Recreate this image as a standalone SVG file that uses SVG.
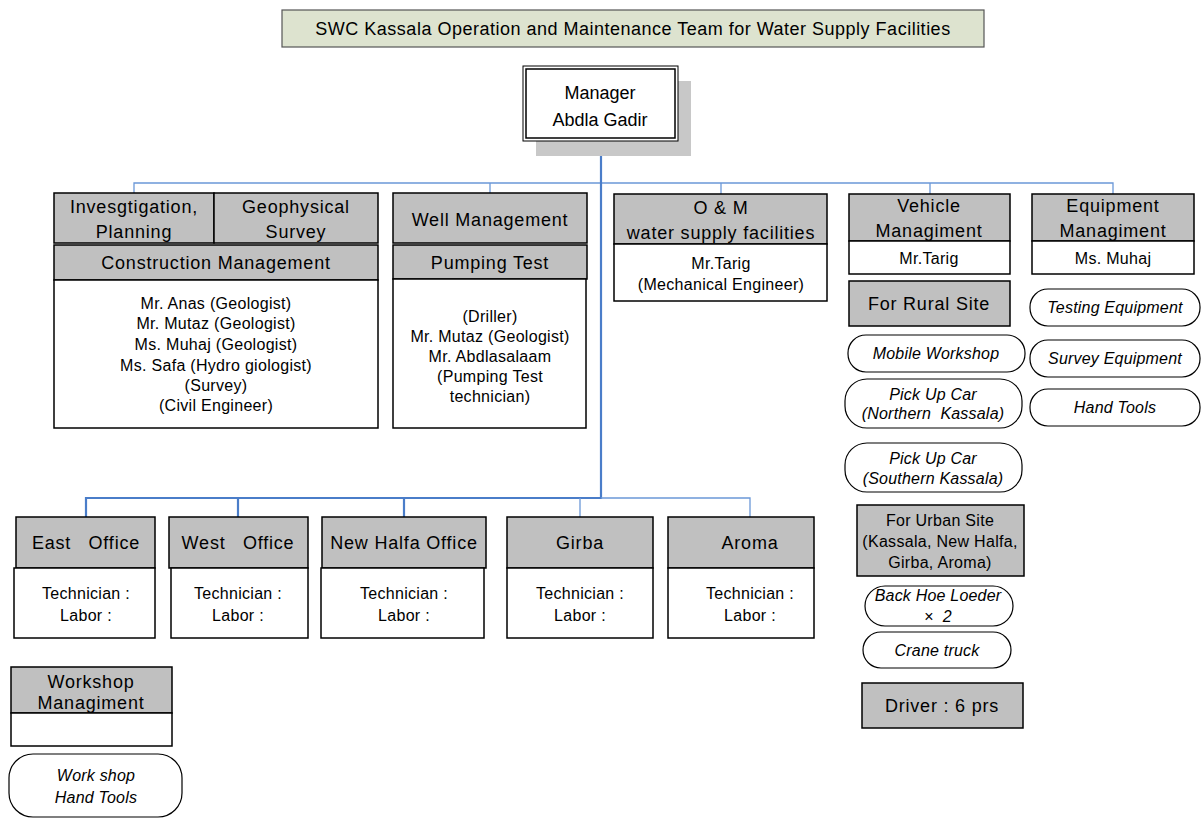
<svg xmlns="http://www.w3.org/2000/svg" width="1201" height="818" viewBox="0 0 1201 818">
<style>
text{font-family:"Liberation Sans",Arial,sans-serif;fill:#000;text-anchor:middle}
.h{font-size:18px;letter-spacing:0.8px}
.b{font-size:16px;letter-spacing:0.3px}
.i{font-size:16px;font-style:italic;letter-spacing:0.2px}
.t{font-size:18px;letter-spacing:0.5px}
.g{fill:#c0c0c0;stroke:#000;stroke-width:1.5}
.w{fill:#fff;stroke:#000;stroke-width:1.5}
.p{fill:#fff;stroke:#000;stroke-width:1.2}
.c{fill:none;stroke:#6b98d8;stroke-width:1.3}
.ct{fill:none;stroke:#4a7dc9;stroke-width:2.2}
</style>
<rect width="1201" height="818" fill="#fff"/>
<g id="title">
<rect x="282" y="10" width="702" height="37" fill="#dde3cf" stroke="#555" stroke-width="1.2"/>
<text class="t" x="633" y="35">SWC Kassala Operation and Maintenance Team for Water Supply Facilities</text>
</g>
<g id="connectors">
<path class="c" d="M134 193V183H1113V194M490 183V193M721 183V194M930 183V194"/>
<path class="ct" d="M601 141V498H86V517M238 498V517M404 498V517"/>
<path class="c" d="M601 498H750V517M580 498V517"/>
</g>
<g id="manager">
<rect x="536" y="81" width="155" height="75" fill="#c8c8c8"/>
<rect x="523" y="66" width="155" height="75" fill="#fff" stroke="#000" stroke-width="1"/>
<rect x="526" y="69" width="149" height="69" fill="none" stroke="#000" stroke-width="1.5"/>
<text x="600" y="99" style="font-size:18px">Manager</text>
<text x="600" y="126" style="font-size:18px">Abdla Gadir</text>
</g>
<g id="investigation">
<rect class="g" x="54" y="193" width="160" height="50"/>
<rect class="g" x="214" y="193" width="164" height="50"/>
<rect class="g" x="54" y="245" width="324" height="35"/>
<rect class="w" x="54" y="280" width="324" height="148"/>
<text class="h" x="134" y="213">Invesgtigation,</text>
<text class="h" x="134" y="238">Planning</text>
<text class="h" x="296" y="213">Geophysical</text>
<text class="h" x="296" y="238">Survey</text>
<text class="h" x="216" y="269">Construction Management</text>
<text class="b" x="216" y="309">Mr. Anas (Geologist)</text>
<text class="b" x="216" y="329">Mr. Mutaz (Geologist)</text>
<text class="b" x="216" y="350">Ms. Muhaj (Geologist)</text>
<text class="b" x="216" y="371">Ms. Safa (Hydro giologist)</text>
<text class="b" x="216" y="391">(Survey)</text>
<text class="b" x="216" y="411">(Civil Engineer)</text>
</g>
<g id="well">
<rect class="g" x="393" y="193" width="194" height="50"/>
<rect class="g" x="393" y="245" width="194" height="34"/>
<rect class="w" x="393" y="279" width="193" height="149"/>
<text class="h" x="490" y="226">Well Management</text>
<text class="h" x="490" y="269">Pumping Test</text>
<text class="b" x="490" y="322">(Driller)</text>
<text class="b" x="490" y="342">Mr. Mutaz (Geologist)</text>
<text class="b" x="490" y="362">Mr. Abdlasalaam</text>
<text class="b" x="490" y="382">(Pumping Test</text>
<text class="b" x="490" y="402">technician)</text>
</g>
<g id="om">
<rect class="g" x="614" y="194" width="213" height="50"/>
<rect class="w" x="614" y="244" width="213" height="57"/>
<text class="h" x="721" y="214">O &amp; M</text>
<text class="h" x="721" y="239">water supply facilities</text>
<text class="b" x="721" y="269">Mr.Tarig</text>
<text class="b" x="721" y="290">(Mechanical Engineer)</text>
</g>
<g id="vehicle">
<rect class="g" x="849" y="194" width="161" height="47"/>
<rect class="w" x="849" y="241" width="161" height="33"/>
<text class="h" x="929" y="212">Vehicle</text>
<text class="h" x="929" y="237">Managiment</text>
<text class="b" x="929" y="264">Mr.Tarig</text>
</g>
<g id="rural">
<rect class="g" x="849" y="281" width="161" height="45"/>
<text class="h" x="929" y="310">For Rural Site</text>
</g>
<g id="mobile-workshop">
<rect class="p" x="848" y="335" width="177" height="37" rx="18"/>
<text class="i" x="936" y="359">Mobile Workshop</text>
</g>
<g id="pickup-north">
<rect class="p" x="845" y="379" width="177" height="49" rx="22"/>
<text class="i" x="933" y="400">Pick Up Car</text>
<text class="i" x="933" y="419" xml:space="preserve">(Northern  Kassala)</text>
</g>
<g id="pickup-south">
<rect class="p" x="845" y="443" width="177" height="49" rx="22"/>
<text class="i" x="933" y="464">Pick Up Car</text>
<text class="i" x="933" y="484">(Southern Kassala)</text>
</g>
<g id="urban">
<rect class="g" x="857" y="505" width="167" height="71"/>
<text class="b" x="940" y="526">For Urban Site</text>
<text class="b" x="940" y="547">(Kassala, New Halfa,</text>
<text class="b" x="940" y="568">Girba, Aroma)</text>
</g>
<g id="backhoe">
<rect class="p" x="865" y="586" width="148" height="40" rx="20"/>
<text class="i" x="938" y="601">Back Hoe Loeder</text>
<text class="i" x="938" y="622" xml:space="preserve">×  2</text>
</g>
<g id="crane">
<rect class="p" x="863" y="632" width="148" height="36" rx="18"/>
<text class="i" x="937" y="656">Crane truck</text>
</g>
<g id="driver">
<rect class="g" x="862" y="683" width="161" height="45"/>
<text class="h" x="942" y="712">Driver : 6 prs</text>
</g>
<g id="equipment">
<rect class="g" x="1032" y="194" width="162" height="47"/>
<rect class="w" x="1032" y="241" width="162" height="33"/>
<text class="h" x="1113" y="212">Equipment</text>
<text class="h" x="1113" y="237">Managiment</text>
<text class="b" x="1113" y="264">Ms. Muhaj</text>
</g>
<g id="testing">
<rect class="p" x="1030" y="289" width="170" height="37" rx="18"/>
<text class="i" x="1115" y="313">Testing Equipment</text>
</g>
<g id="survey">
<rect class="p" x="1030" y="340" width="170" height="37" rx="18"/>
<text class="i" x="1115" y="364">Survey Equipment</text>
</g>
<g id="handtools">
<rect class="p" x="1030" y="389" width="170" height="37" rx="18"/>
<text class="i" x="1115" y="413">Hand Tools</text>
</g>
<g id="east">
<rect class="g" x="16" y="517" width="139" height="51"/>
<rect class="w" x="14" y="568" width="141" height="70"/>
<text class="h" x="86" y="549" xml:space="preserve">East   Office</text>
<text class="b" x="86" y="599">Technician :</text>
<text class="b" x="86" y="621">Labor :</text>
</g>
<g id="west">
<rect class="g" x="169" y="517" width="139" height="51"/>
<rect class="w" x="171" y="568" width="137" height="70"/>
<text class="h" x="238" y="549" xml:space="preserve">West   Office</text>
<text class="b" x="238" y="599">Technician :</text>
<text class="b" x="238" y="621">Labor :</text>
</g>
<g id="newhalfa">
<rect class="g" x="322" y="517" width="164" height="51"/>
<rect class="w" x="321" y="568" width="163" height="70"/>
<text class="h" x="404" y="549">New Halfa Office</text>
<text class="b" x="404" y="599">Technician :</text>
<text class="b" x="404" y="621">Labor :</text>
</g>
<g id="girba">
<rect class="g" x="507" y="517" width="146" height="51"/>
<rect class="w" x="507" y="568" width="146" height="70"/>
<text class="h" x="580" y="549">Girba</text>
<text class="b" x="580" y="599">Technician :</text>
<text class="b" x="580" y="621">Labor :</text>
</g>
<g id="aroma">
<rect class="g" x="668" y="517" width="146" height="51"/>
<rect class="w" x="668" y="568" width="146" height="70"/>
<text class="h" x="750" y="549">Aroma</text>
<text class="b" x="750" y="599">Technician :</text>
<text class="b" x="750" y="621">Labor :</text>
</g>
<g id="workshop">
<rect class="g" x="11" y="667" width="161" height="46"/>
<rect class="w" x="11" y="713" width="161" height="33"/>
<text class="h" x="91" y="688">Workshop</text>
<text class="h" x="91" y="709">Managiment</text>
</g>
<g id="workshop-tools">
<rect class="p" x="9" y="754" width="173" height="63" rx="24"/>
<text class="i" x="96" y="781">Work shop</text>
<text class="i" x="96" y="803">Hand Tools</text>
</g>
</svg>
